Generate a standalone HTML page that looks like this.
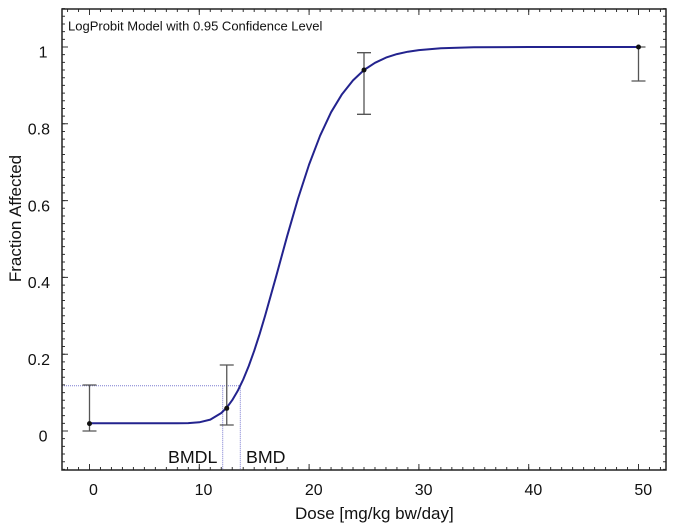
<!DOCTYPE html>
<html>
<head>
<meta charset="utf-8">
<style>
  html, body { margin: 0; padding: 0; background: #ffffff; }
  svg { display: block; }
  text { font-family: "Liberation Sans", Arial, sans-serif; fill: #111; }
</style>
</head>
<body>
<svg width="681" height="529" viewBox="0 0 681 529" xmlns="http://www.w3.org/2000/svg">
  <rect x="0" y="0" width="681" height="529" fill="#ffffff"/>

  <!-- BMD dotted guide lines -->
  <g stroke="#7b7bd0" stroke-width="1" stroke-dasharray="1 1" fill="none">
    <line x1="62" y1="385.7" x2="240.3" y2="385.7"/>
    <line x1="222.7" y1="385.7" x2="222.7" y2="470"/>
    <line x1="240.3" y1="385.7" x2="240.3" y2="470"/>
  </g>

  <!-- minor ticks via dash arrays -->
  <g stroke="#333" fill="none">
    <line x1="67.04" y1="468.5" x2="666" y2="468.5" stroke-width="3" stroke-dasharray="1 9.98"/>
    <line x1="67.04" y1="10.5" x2="666" y2="10.5" stroke-width="3" stroke-dasharray="1 9.98"/>
    <line x1="63.5" y1="8.1" x2="63.5" y2="470" stroke-width="3" stroke-dasharray="1 6.68"/>
    <line x1="664.5" y1="8.1" x2="664.5" y2="470" stroke-width="3" stroke-dasharray="1 6.68"/>
  </g>

  <!-- major ticks -->
  <g stroke="#333" stroke-width="1" fill="none">
    <path d="M89.5 470V464 M199.3 470V464 M309.1 470V464 M418.9 470V464 M528.7 470V464 M638.5 470V464
             M89.5 9V15 M199.3 9V15 M309.1 9V15 M418.9 9V15 M528.7 9V15 M638.5 9V15
             M62 47H68 M62 123.8H68 M62 200.6H68 M62 277.4H68 M62 354.2H68 M62 431H68
             M666 47H660 M666 123.8H660 M666 200.6H660 M666 277.4H660 M666 354.2H660 M666 431H660"/>
  </g>

  <!-- plot frame -->
  <rect x="62" y="9" width="604" height="461" fill="none" stroke="#222" stroke-width="1.5"/>

  <!-- error bars -->
  <g stroke="#555" stroke-width="1.3" fill="none">
    <path d="M89.5 385V431 M82.5 385H96.5 M82.5 431H96.5"/>
    <path d="M226.75 365V425 M219.75 365H233.75 M219.75 425H233.75"/>
    <path d="M364 52.7V114.3 M357 52.7H371 M357 114.3H371"/>
    <path d="M638.5 47V81 M631.5 47H645.5 M631.5 81H645.5"/>
  </g>

  <!-- fitted curve -->
  <polyline fill="none" stroke="#23238e" stroke-width="2" stroke-linejoin="round"
    points="89.5,423.3 177.3,423.3 188.3,423.1 199.3,422.3 210.3,419.6 221.3,413.0 226.75,407.6 232.2,400.2 237.7,390.9 243.2,379.5 248.7,366.1 254.2,350.8 259.7,333.8 265.2,315.4 276.2,276.2 287.1,236.3 298.1,198.3 309.1,164.5 320.1,135.7 331.1,112.2 342.0,94.2 353.0,80.4 364.0,70.0 375.0,62.8 386.0,57.6 396.9,54.1 407.9,51.7 418.9,50.1 440.9,48.3 473.8,47.3 528.7,47.0 638.5,47.0"/>

  <!-- data points -->
  <g fill="#111">
    <circle cx="89.5" cy="423.6" r="2.5"/>
    <circle cx="226.75" cy="408.3" r="2.5"/>
    <circle cx="364" cy="70" r="2.5"/>
    <circle cx="638.5" cy="47" r="2.5"/>
  </g>

  <!-- title -->
  <text x="68" y="30.5" font-size="13">LogProbit Model with 0.95 Confidence Level</text>

  <!-- BMD labels -->
  <text x="168" y="463" font-size="17.8">BMDL</text>
  <text x="246" y="463" font-size="17.8">BMD</text>

  <!-- y tick labels -->
  <g font-size="16" text-anchor="end">
    <text x="47.5" y="57.5">1</text>
    <text x="50" y="134.5">0.8</text>
    <text x="50" y="211.3">0.6</text>
    <text x="50" y="288.1">0.4</text>
    <text x="50" y="364.9">0.2</text>
    <text x="47.5" y="441.7">0</text>
  </g>

  <!-- x tick labels -->
  <g font-size="16" text-anchor="middle">
    <text x="93.5" y="495">0</text>
    <text x="203.5" y="495">10</text>
    <text x="313.8" y="495">20</text>
    <text x="423.6" y="495">30</text>
    <text x="533.4" y="495">40</text>
    <text x="643.3" y="495">50</text>
  </g>

  <!-- axis titles -->
  <text x="295" y="519" font-size="17">Dose [mg/kg bw/day]</text>
  <text transform="translate(21,218.5) rotate(-90)" font-size="17" text-anchor="middle">Fraction Affected</text>
</svg>
</body>
</html>
